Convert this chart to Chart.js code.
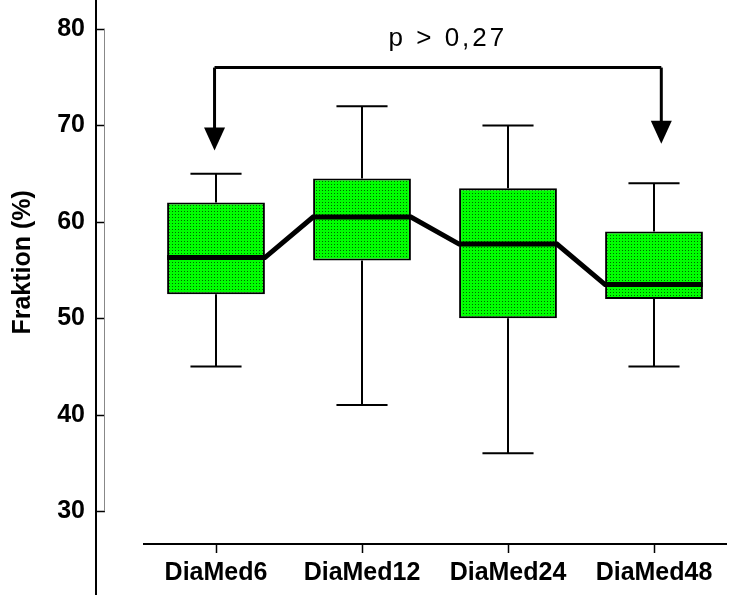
<!DOCTYPE html>
<html>
<head>
<meta charset="utf-8">
<script src="https://cdn.jsdelivr.net/npm/chart.js@4"></script>
<style>
  html, body { margin: 0; padding: 0; background: #fff; }
</style>
</head>
<body>
<canvas id="chart" width="739" height="595"></canvas>
<script>
// values
const categories = ['DiaMed6', 'DiaMed12', 'DiaMed24', 'DiaMed48'];
const whiskerLow = [45, 41, 36, 45];
const boxLow = [52.5, 56, 50, 52];
const medians = [56.3, 60.5, 57.7, 53.5];
const boxHigh = [62, 64.5, 63.5, 59];
const whiskerHigh = [65, 72, 70, 64];
const yTicks = [30, 40, 50, 60, 70, 80];
const yTitle = 'Fraktion (%)';

// p-value bracket (in data units)
const pLabel = 'p > 0,27';
const bracketLevel = 76;
const arrowX = [0.99, 4.05];
const arrowTip = [67.4, 68.1];

const BOX_HALF = 0.335;
const CAP_HALF = 0.175;
const FONT = '"Liberation Sans", Arial, sans-serif';

function dotPattern() {
    const c = document.createElement('canvas');
    c.width = 3;
    c.height = 3;
    const g = c.getContext('2d');
    g.fillStyle = '#00ff00';
    g.fillRect(0, 0, 3, 3);
    g.fillStyle = '#006600';
    g.fillRect(1, 1, 1, 1);
    return document.getElementById('chart').getContext('2d').createPattern(c, 'repeat');
}

const boxData = categories.map((c, i) => ({ x: i + 1, y: [boxLow[i], boxHigh[i]] }));
const medianData = [];
categories.forEach((c, i) => {
    medianData.push({ x: i + 1 - BOX_HALF, y: medians[i] });
    medianData.push({ x: i + 1 + BOX_HALF, y: medians[i] });
});

// whiskers behind the boxes
const whiskerPlugin = {
    id: 'whiskers',
    beforeDatasetsDraw(chart) {
        const { ctx, scales: { x, y } } = chart;
        ctx.save();
        ctx.strokeStyle = '#000';
        ctx.lineWidth = 2;
        categories.forEach((c, i) => {
            const cx = x.getPixelForValue(i + 1);
            const l = x.getPixelForValue(i + 1 - CAP_HALF);
            const r = x.getPixelForValue(i + 1 + CAP_HALF);
            ctx.beginPath();
            ctx.moveTo(cx, y.getPixelForValue(whiskerHigh[i]));
            ctx.lineTo(cx, y.getPixelForValue(boxHigh[i]));
            ctx.moveTo(cx, y.getPixelForValue(boxLow[i]));
            ctx.lineTo(cx, y.getPixelForValue(whiskerLow[i]));
            ctx.moveTo(l, y.getPixelForValue(whiskerHigh[i]));
            ctx.lineTo(r, y.getPixelForValue(whiskerHigh[i]));
            ctx.moveTo(l, y.getPixelForValue(whiskerLow[i]));
            ctx.lineTo(r, y.getPixelForValue(whiskerLow[i]));
            ctx.stroke();
        });
        ctx.restore();
    }
};

// offset axes, axis title + p-value bracket
const axesPlugin = {
    id: 'axes',
    afterDraw(chart) {
        const { ctx, chartArea, scales: { x, y } } = chart;
        const axisX = chartArea.left - 47;
        ctx.save();
        ctx.strokeStyle = '#000';

        // y axis
        ctx.lineWidth = 2;
        ctx.beginPath();
        ctx.moveTo(axisX, 0);
        ctx.lineTo(axisX, chart.height);
        ctx.stroke();
        ctx.lineWidth = 1.5;
        ctx.beginPath();
        yTicks.forEach(v => {
            const py = Math.round(y.getPixelForValue(v)) + 0.5;
            ctx.moveTo(axisX, py);
            ctx.lineTo(axisX + 9, py);
        });
        ctx.stroke();
        ctx.strokeStyle = '#888';
        ctx.lineWidth = 1;
        ctx.beginPath();
        ctx.moveTo(axisX + 8.5, y.getPixelForValue(yTicks[yTicks.length - 1]));
        ctx.lineTo(axisX + 8.5, y.getPixelForValue(yTicks[0]));
        ctx.stroke();

        // y title, rotated
        ctx.save();
        ctx.translate(23, y.getPixelForValue(55.8));
        ctx.rotate(-Math.PI / 2);
        ctx.font = 'bold 25px ' + FONT;
        ctx.textAlign = 'center';
        ctx.textBaseline = 'middle';
        ctx.fillStyle = '#000';
        ctx.fillText(yTitle, 0, 0);
        ctx.restore();

        // x axis
        ctx.strokeStyle = '#000';
        ctx.lineWidth = 2;
        ctx.beginPath();
        ctx.moveTo(chartArea.left, chartArea.bottom);
        ctx.lineTo(chartArea.right, chartArea.bottom);
        ctx.stroke();
        ctx.lineWidth = 1.5;
        ctx.beginPath();
        categories.forEach((c, i) => {
            const px = Math.round(x.getPixelForValue(i + 1)) + 0.5;
            ctx.moveTo(px, chartArea.bottom);
            ctx.lineTo(px, chartArea.bottom + 9);
        });
        ctx.stroke();

        // bracket with arrows
        const by = y.getPixelForValue(bracketLevel);
        const x0 = x.getPixelForValue(arrowX[0]);
        const x1 = x.getPixelForValue(arrowX[1]);
        ctx.lineWidth = 3;
        ctx.beginPath();
        ctx.moveTo(x0, by);
        ctx.lineTo(x1, by);
        ctx.stroke();
        arrowX.forEach((ax, k) => {
            const px = x.getPixelForValue(ax);
            const tip = y.getPixelForValue(arrowTip[k]);
            ctx.beginPath();
            ctx.moveTo(px, by);
            ctx.lineTo(px, tip - 20);
            ctx.stroke();
            ctx.beginPath();
            ctx.moveTo(px - 10.5, tip - 23);
            ctx.lineTo(px + 10.5, tip - 23);
            ctx.lineTo(px, tip);
            ctx.closePath();
            ctx.fillStyle = '#000';
            ctx.fill();
        });

        ctx.font = '26px ' + FONT;
        ctx.letterSpacing = '3px';
        ctx.textAlign = 'center';
        ctx.textBaseline = 'middle';
        ctx.fillStyle = '#000';
        ctx.fillText(pLabel, (x0 + x1) / 2 + 10, y.getPixelForValue(79));
        ctx.restore();
    }
};

new Chart(document.getElementById('chart'), {
    type: 'bar',
    data: {
        datasets: [
            {
                type: 'line',
                data: medianData,
                borderColor: '#000',
                borderWidth: 5,
                pointRadius: 0,
                tension: 0,
                order: 0
            },
            {
                type: 'bar',
                data: boxData,
                backgroundColor: dotPattern(),
                borderColor: '#000',
                borderWidth: 2,
                borderSkipped: false,
                barPercentage: 0.67,
                categoryPercentage: 1,
                order: 1
            }
        ]
    },
    options: {
        responsive: false,
        animation: false,
        layout: { padding: { top: 29, right: 12, bottom: 0, left: 0 } },
        plugins: {
            legend: { display: false },
            tooltip: { enabled: false }
        },
        scales: {
            x: {
                type: 'linear',
                offset: false,
                min: 0.5,
                max: 4.5,
                grid: { display: false },
                border: { display: false },
                afterBuildTicks: s => { s.ticks = categories.map((c, i) => ({ value: i + 1 })); },
                afterFit: s => { s.height = 51; },
                ticks: {
                    callback: v => categories[v - 1],
                    font: { family: FONT, size: 25, weight: 'bold' },
                    color: '#000',
                    padding: 6,
                    maxRotation: 0,
                    autoSkip: false
                }
            },
            y: {
                min: 26.6,
                max: 80,
                grid: {
                    display: true,
                    drawOnChartArea: false,
                    drawTicks: true,
                    tickLength: 47,
                    color: 'rgba(0,0,0,0)'
                },
                border: { display: false },
                afterBuildTicks: s => { s.ticks = yTicks.map(v => ({ value: v })); },
                afterFit: s => { s.width = 143; },
                ticks: {
                    font: { family: FONT, size: 25, weight: 'bold' },
                    color: '#000',
                    padding: 11
                }
            }
        }
    },
    plugins: [whiskerPlugin, axesPlugin]
});
</script>
</body>
</html>
